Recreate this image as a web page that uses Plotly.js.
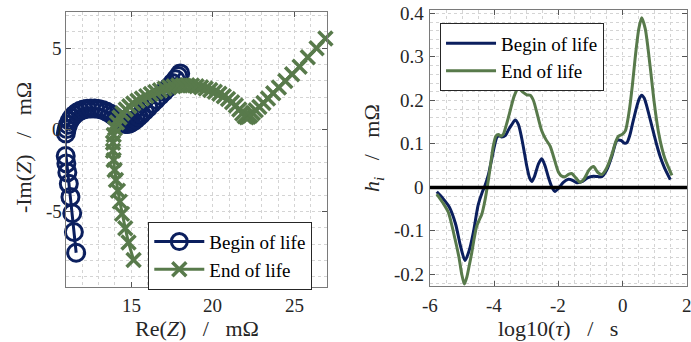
<!DOCTYPE html>
<html><head><meta charset="utf-8">
<script src="https://cdn.plot.ly/plotly-3.0.1.min.js"></script>
<style>html,body{margin:0;padding:0;background:#fff;}#chart{width:691px;height:342px;}</style>
</head><body><div id="chart"></div>
<script>
// Nyquist: Begin of life (Re(Z), -Im(Z)) in mΩ
const bolRe = [11.62, 11.48, 11.38, 11.27, 11.17, 11.08, 11.02, 10.98, 10.96, 10.95, 10.96, 10.99, 11.04, 11.12, 11.22, 11.35, 11.50, 11.67, 11.86, 12.07, 12.29, 12.52, 12.76, 13.00, 13.24, 13.47, 13.69, 13.89, 14.07, 14.23, 14.37, 14.50, 14.62, 14.74, 14.86, 14.99, 15.13, 15.28, 15.45, 15.63, 15.83, 16.04, 16.27, 16.51, 16.76, 17.02, 17.28, 17.52, 17.72, 17.88, 18.00];
const bolIm = [-7.52, -6.25, -5.10, -4.10, -3.30, -2.60, -2.05, -1.60, -1.20, -0.85, -0.52, -0.22, 0.06, 0.32, 0.55, 0.75, 0.92, 1.06, 1.17, 1.25, 1.30, 1.32, 1.31, 1.28, 1.22, 1.13, 1.01, 0.88, 0.74, 0.61, 0.50, 0.42, 0.37, 0.36, 0.38, 0.44, 0.53, 0.65, 0.80, 0.97, 1.16, 1.37, 1.60, 1.84, 2.09, 2.35, 2.61, 2.87, 3.10, 3.30, 3.46];
// Nyquist: End of life
const eolRe = [15.14, 14.83, 14.63, 14.43, 14.30, 14.18, 14.06, 13.98, 13.92, 13.88, 13.88, 13.92, 14.00, 14.12, 14.28, 14.46, 14.66, 14.88, 15.12, 15.38, 15.65, 15.92, 16.20, 16.48, 16.76, 17.04, 17.32, 17.60, 17.88, 18.16, 18.44, 18.72, 19.00, 19.28, 19.56, 19.84, 20.12, 20.40, 20.67, 20.93, 21.18, 21.41, 21.62, 21.80, 21.95, 22.07, 22.18, 22.30, 22.45, 22.63, 22.85, 23.10, 23.38, 23.70, 24.05, 24.44, 24.86, 25.32, 25.82, 26.36, 26.90];
const eolIm = [-7.96, -6.90, -6.02, -5.14, -4.39, -3.73, -3.06, -2.45, -1.84, -1.27, -0.78, -0.31, 0.10, 0.45, 0.76, 1.02, 1.25, 1.45, 1.62, 1.78, 1.93, 2.07, 2.20, 2.32, 2.43, 2.53, 2.61, 2.68, 2.72, 2.74, 2.74, 2.72, 2.68, 2.62, 2.54, 2.45, 2.34, 2.21, 2.06, 1.89, 1.70, 1.50, 1.25, 1.00, 0.84, 0.78, 0.80, 0.88, 1.03, 1.20, 1.41, 1.65, 1.93, 2.25, 2.60, 2.99, 3.41, 3.87, 4.45, 5.00, 5.60];
// DRT: log10(tau) and h_i
const drtBolX = [-5.79, -5.6, -5.4, -5.2, -5.05, -4.91, -4.78, -4.65, -4.5, -4.38, -4.29, -4.18, -4.08, -3.98, -3.92, -3.85, -3.77, -3.65, -3.56, -3.45, -3.35, -3.25, -3.15, -3.05, -2.99, -2.9, -2.83, -2.75, -2.62, -2.52, -2.42, -2.3, -2.2, -2.11, -2.0, -1.85, -1.69, -1.55, -1.43, -1.25, -1.1, -0.91, -0.78, -0.65, -0.5, -0.34, -0.18, -0.05, 0.05, 0.13, 0.22, 0.3, 0.44, 0.52, 0.59, 0.67, 0.78, 0.91, 1.05, 1.17, 1.3, 1.48];
const drtBolY = [-0.010, -0.025, -0.045, -0.085, -0.135, -0.168, -0.145, -0.103, -0.040, -0.012, 0.004, 0.030, 0.065, 0.100, 0.115, 0.119, 0.116, 0.120, 0.132, 0.145, 0.155, 0.145, 0.115, 0.075, 0.050, 0.022, 0.014, 0.025, 0.055, 0.066, 0.050, 0.020, 0.000, -0.009, -0.002, 0.012, 0.019, 0.016, 0.011, 0.014, 0.022, 0.026, 0.025, 0.025, 0.040, 0.072, 0.108, 0.108, 0.102, 0.103, 0.120, 0.145, 0.187, 0.205, 0.212, 0.205, 0.178, 0.140, 0.100, 0.070, 0.045, 0.018];
const drtEolX = [-5.79, -5.6, -5.43, -5.22, -5.1, -5.01, -4.93, -4.85, -4.78, -4.70, -4.62, -4.55, -4.47, -4.39, -4.29, -4.18, -4.1, -4.03, -3.95, -3.87, -3.8, -3.72, -3.62, -3.51, -3.38, -3.25, -3.12, -2.99, -2.88, -2.78, -2.65, -2.52, -2.39, -2.26, -2.13, -2.00, -1.9, -1.79, -1.69, -1.59, -1.46, -1.33, -1.2, -1.05, -0.91, -0.78, -0.65, -0.5, -0.34, -0.22, -0.13, -0.02, 0.08, 0.2, 0.3, 0.39, 0.5, 0.59, 0.7, 0.85, 0.98, 1.11, 1.22, 1.32, 1.53];
const drtEolY = [-0.015, -0.035, -0.057, -0.119, -0.160, -0.200, -0.222, -0.205, -0.180, -0.150, -0.115, -0.090, -0.075, -0.062, -0.030, 0.019, 0.060, 0.095, 0.118, 0.122, 0.118, 0.122, 0.145, 0.175, 0.210, 0.228, 0.220, 0.213, 0.212, 0.200, 0.165, 0.130, 0.110, 0.095, 0.065, 0.035, 0.026, 0.025, 0.030, 0.032, 0.022, 0.012, 0.020, 0.040, 0.048, 0.035, 0.030, 0.045, 0.075, 0.105, 0.118, 0.122, 0.130, 0.175, 0.235, 0.300, 0.365, 0.390, 0.365, 0.280, 0.195, 0.128, 0.090, 0.065, 0.028];
// Tick labels
const nyqXTicks = [15, 20, 25];
const nyqXLabels = ['15', '20', '25'];
const nyqYTicks = [-5, 0, 5];
const nyqYLabels = ['-5', '0', '5'];
const drtXTicks = [-6, -4, -2, 0, 2];
const drtXLabels = ['-6', '-4', '-2', '0', '2'];
const drtYTicks = [-0.2, -0.1, 0, 0.1, 0.2, 0.3, 0.4];
const drtYLabels = ['-0.2', '-0.1', '0', '0.1', '0.2', '0.3', '0.4'];
const seriesNames = ['Begin of life', 'End of life'];
const sp = '\u00a0\u00a0\u00a0';
const axisTitles = ['Re(<i>Z</i>)' + sp + '/' + sp + 'mΩ', '-Im(<i>Z</i>)' + sp + '/' + sp + 'mΩ',
                    'log10(<i>τ</i>)' + sp + '/' + sp + 's', '<i>h<sub>i</sub></i>' + sp + '/' + sp + 'mΩ'];

const cBol = '#0b1f5e';
const cEol = '#587a4b';
const font = 'Liberation Serif';
const txt = '#262626';
const tickFont = {family: font, size: 19, color: txt};
const titleFont = {family: font, size: 22, color: txt};

const traces = [
  {x: bolRe, y: bolIm, xaxis: 'x', yaxis: 'y', name: seriesNames[0], mode: 'lines+markers', cliponaxis: false,
   line: {color: cBol, width: 3}, marker: {symbol: 'circle-open', size: 17, color: cBol, line: {width: 3, color: cBol}}, legend: 'legend'},
  {x: eolRe, y: eolIm, xaxis: 'x', yaxis: 'y', name: seriesNames[1], mode: 'lines+markers', cliponaxis: false,
   line: {color: cEol, width: 3}, marker: {symbol: 'x-thin-open', size: 14, color: cEol, line: {width: 3.5, color: cEol}}, legend: 'legend'},
  {x: drtBolX, y: drtBolY, xaxis: 'x2', yaxis: 'y2', name: seriesNames[0], mode: 'lines',
   line: {color: cBol, width: 3, shape: 'spline', smoothing: 0.7}, legend: 'legend2'},
  {x: drtEolX, y: drtEolY, xaxis: 'x2', yaxis: 'y2', name: seriesNames[1], mode: 'lines',
   line: {color: cEol, width: 3, shape: 'spline', smoothing: 0.7}, legend: 'legend2'}
];

function ax(extra) {
  return Object.assign({
    showline: true, mirror: 'ticks', linecolor: '#7a7a7a', linewidth: 1,
    ticks: 'inside', ticklen: 5, tickcolor: '#555', tickwidth: 1,
    showgrid: true, gridcolor: '#d4d4d4', griddash: 'dot', gridwidth: 1,
    zeroline: false, tickmode: 'array', automargin: false, showticklabels: false
  }, extra);
}

// tick labels and axis titles as annotations (positioned by the axes' own scales)
const annotations = [];
function tickAnn(vals, labels, axis, isX, pos) {
  vals.forEach(function (v, i) {
    const a = {text: labels[i], showarrow: false, font: tickFont, borderpad: 0};
    if (isX) { Object.assign(a, {xref: axis, x: v, yref: 'paper', y: pos, xanchor: 'center', yanchor: 'middle'}); }
    else { Object.assign(a, {yref: axis, y: v, xref: 'paper', x: pos, xanchor: 'right', yanchor: 'middle'}); }
    annotations.push(a);
  });
}
tickAnn(nyqXTicks, nyqXLabels, 'x', true, 0.108);
tickAnn(nyqYTicks, nyqYLabels, 'y', false, 0.0905);
tickAnn(drtXTicks, drtXLabels, 'x2', true, 0.108);
tickAnn(drtYTicks, drtYLabels, 'y2', false, 0.6155);
annotations.push({text: axisTitles[0], xref: 'paper', yref: 'paper', x: 0.2847, y: 0.040, xanchor: 'center', yanchor: 'middle', showarrow: false, font: titleFont});
annotations.push({text: axisTitles[1], xref: 'paper', yref: 'paper', x: 0.0333, y: 0.567, xanchor: 'center', yanchor: 'middle', textangle: -90, showarrow: false, font: titleFont});
annotations.push({text: axisTitles[2], xref: 'paper', yref: 'paper', x: 0.8075, y: 0.040, xanchor: 'center', yanchor: 'middle', showarrow: false, font: titleFont});
annotations.push({text: axisTitles[3], xref: 'paper', yref: 'paper', x: 0.5398, y: 0.567, xanchor: 'center', yanchor: 'middle', textangle: -90, showarrow: false, font: titleFont});

const layout = {
  width: 691, height: 342, margin: {l: 0, r: 0, t: 0, b: 0},
  paper_bgcolor: '#fff', plot_bgcolor: '#fff', showlegend: true,
  font: {family: font, color: txt, size: 19},
  xaxis: ax({domain: [0.0951, 0.4728], range: [10.98, 26.98], anchor: 'y', tickvals: nyqXTicks,
    minor: {dtick: 1, tick0: 0, showgrid: true, gridcolor: '#d4d4d4', griddash: 'dot', ticks: ''}}),
  yaxis: ax({domain: [0.1617, 0.9658], range: [-9.6, 7.24], anchor: 'x', tickvals: nyqYTicks,
    minor: {dtick: 1, tick0: 0, showgrid: true, gridcolor: '#d4d4d4', griddash: 'dot', ticks: ''}}),
  xaxis2: ax({domain: [0.6223, 0.9942], range: [-6, 2], anchor: 'y2', tickvals: drtXTicks,
    minor: {dtick: 0.5, tick0: 0, showgrid: true, gridcolor: '#d4d4d4', griddash: 'dot', ticks: ''}}),
  yaxis2: ax({domain: [0.1637, 0.9708], range: [-0.2265, 0.408], anchor: 'x2', tickvals: drtYTicks,
    minor: {dtick: 0.02, tick0: 0, showgrid: true, gridcolor: '#d4d4d4', griddash: 'dot', ticks: ''}}),
  shapes: [
    {type: 'line', xref: 'x2 domain', yref: 'y2', x0: 0, x1: 1, y0: 0, y1: 0, line: {color: '#000', width: 3.5}, layer: 'above'}
  ],
  annotations: annotations,
  legend: {x: 0.2146, y: 0.3518, xanchor: 'left', yanchor: 'top', bgcolor: '#fff', bordercolor: '#262626', borderwidth: 1,
    font: {family: font, size: 19, color: '#000'}, tracegroupgap: 0, itemwidth: 50},
  legend2: {x: 0.6368, y: 0.9318, xanchor: 'left', yanchor: 'top', bgcolor: '#fff', bordercolor: '#262626', borderwidth: 1,
    font: {family: font, size: 19, color: '#000'}, tracegroupgap: 0, itemwidth: 50}
};

Plotly.newPlot('chart', traces, layout, {staticPlot: true, displayModeBar: false});
</script></body></html>
